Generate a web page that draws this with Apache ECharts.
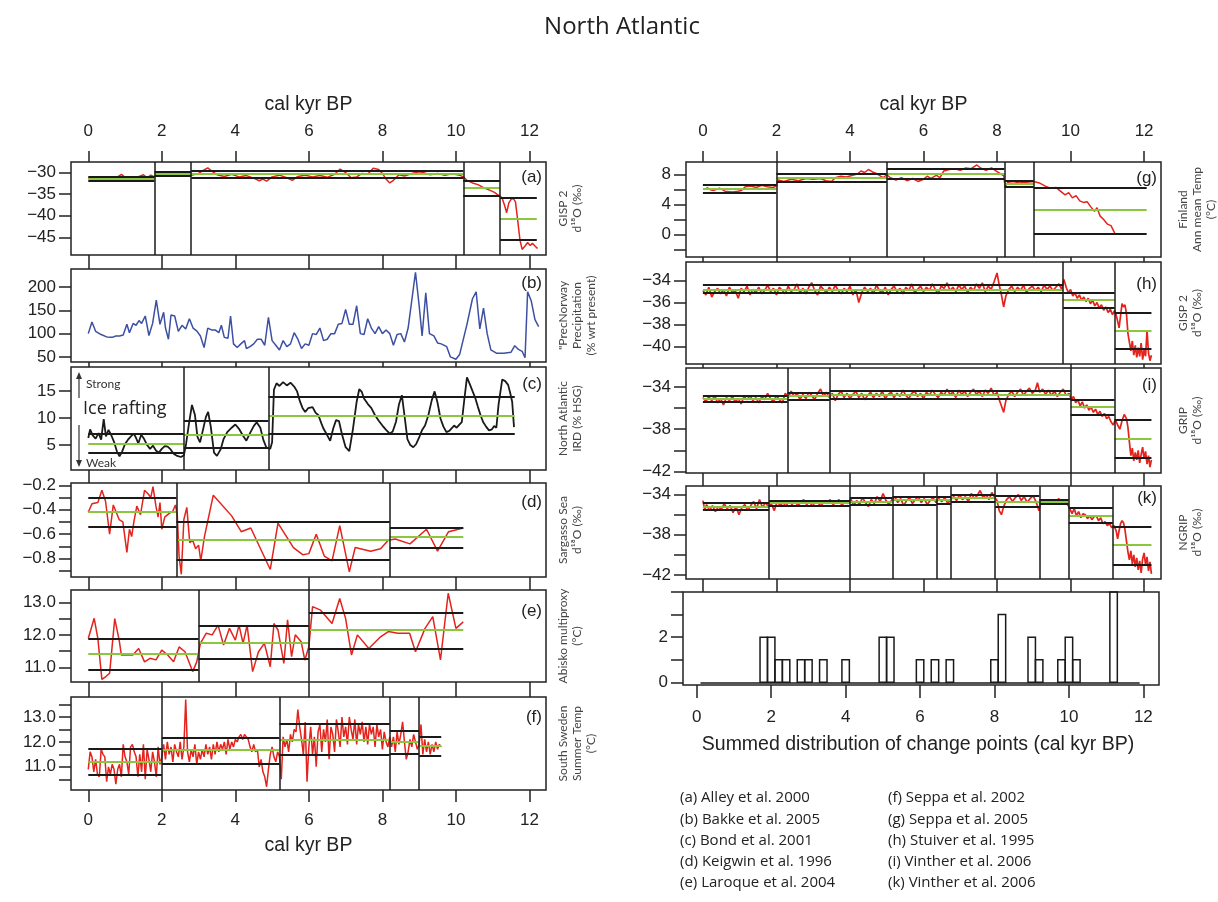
<!DOCTYPE html>
<html>
<head>
<meta charset="utf-8">
<script src="https://cdn.jsdelivr.net/npm/echarts@6/dist/echarts.min.js"></script>
<style>
html,body{margin:0;padding:0;background:#fff;}
#main{width:1218px;height:902px;}
</style>
</head>
<body>
<div id="main"></div>
<script>
// x ticks shared by all panels (cal kyr BP)
var xTicks = [0, 2, 4, 6, 8, 10, 12];

// (a) GISP 2 d18O
var aData = [[0,-31.3],[0.2,-31.5],[0.4,-31.2],[0.6,-31.6],[0.8,-31.0],[0.9,-30.4],[1.0,-31.1],[1.2,-31.4],[1.35,-31.0],[1.5,-30.5],[1.6,-31.2],[1.7,-30.6],[1.8,-31.0],[1.9,-30.4],[2.0,-30.3],[2.1,-29.9],[2.2,-30.2],[2.4,-30.0],[2.6,-30.3],[2.8,-30.6],[3.0,-30.2],[3.15,-29.4],[3.25,-28.9],[3.35,-29.6],[3.5,-30.5],[3.7,-30.9],[3.9,-30.4],[4.1,-31.0],[4.3,-30.7],[4.5,-31.3],[4.65,-31.9],[4.75,-31.5],[4.85,-32.0],[5.0,-31.0],[5.2,-30.6],[5.4,-31.2],[5.55,-31.8],[5.7,-30.9],[5.9,-30.6],[6.1,-31.0],[6.3,-30.7],[6.5,-31.1],[6.7,-30.4],[6.85,-29.2],[7.0,-30.0],[7.15,-31.2],[7.3,-31.0],[7.45,-30.2],[7.6,-30.4],[7.75,-29.0],[7.9,-29.3],[8.0,-30.2],[8.1,-31.5],[8.2,-32.4],[8.3,-31.8],[8.45,-30.5],[8.6,-30.8],[8.8,-30.2],[9.0,-29.8],[9.1,-30.0],[9.3,-30.5],[9.5,-30.2],[9.7,-30.6],[9.9,-30.3],[10.1,-30.6],[10.2,-31.0],[10.3,-31.8],[10.45,-32.4],[10.6,-32.8],[10.75,-33.5],[10.9,-34.0],[11.05,-34.6],[11.15,-35.2],[11.25,-35.8],[11.32,-37.5],[11.38,-39.3],[11.44,-37.0],[11.5,-36.2],[11.56,-36.0],[11.62,-36.8],[11.68,-41.0],[11.74,-45.5],[11.8,-47.8],[11.88,-47.0],[11.95,-46.2],[12.02,-46.9],[12.08,-46.4],[12.15,-47.0],[12.22,-47.6]];
// segments: [start, end, lower, mean, upper]
var aSegs = [[0,1.8,-31.9,-31.4,-31.0],[1.8,2.8,-30.8,-30.2,-29.8],[2.8,10.2,-31.1,-30.3,-29.6],[10.2,11.2,-35.3,-33.6,-32.0],[11.2,12.2,-45.5,-40.6,-35.8]];
var aBreaks = [1.8, 2.8, 10.2, 11.2];
var aTicks = [-30, -35, -40, -45];

// (b) PrecNorway precipitation
var bData = [[0.0,100],[0.1,125],[0.2,105],[0.35,98],[0.5,93],[0.65,92],[0.75,95],[0.85,95],[0.95,97],[1.05,120],[1.12,102],[1.22,122],[1.3,118],[1.38,128],[1.45,122],[1.55,138],[1.65,96],[1.75,122],[1.85,172],[1.95,120],[2.05,146],[2.1,112],[2.18,88],[2.25,140],[2.35,138],[2.45,105],[2.55,118],[2.65,110],[2.75,132],[2.85,112],[2.95,106],[3.05,95],[3.15,70],[3.25,112],[3.35,108],[3.45,108],[3.55,102],[3.62,118],[3.7,92],[3.8,90],[3.87,138],[3.95,78],[4.05,70],[4.15,78],[4.25,85],[4.3,68],[4.4,72],[4.5,78],[4.6,88],[4.7,88],[4.8,75],[4.9,135],[5.0,85],[5.1,75],[5.2,65],[5.3,85],[5.4,72],[5.5,78],[5.6,102],[5.7,88],[5.8,68],[5.9,78],[6.0,75],[6.1,100],[6.2,98],[6.3,112],[6.4,85],[6.5,88],[6.6,100],[6.7,100],[6.8,120],[6.9,122],[7.0,152],[7.1,120],[7.2,120],[7.3,160],[7.4,100],[7.5,98],[7.6,132],[7.7,112],[7.8,100],[7.9,115],[8.0,100],[8.1,108],[8.2,100],[8.3,75],[8.4,98],[8.5,100],[8.6,82],[8.7,112],[8.9,232],[9.0,160],[9.08,95],[9.18,188],[9.28,100],[9.4,95],[9.5,80],[9.6,78],[9.75,72],[9.85,50],[10.0,45],[10.1,55],[10.3,120],[10.45,175],[10.55,190],[10.65,110],[10.75,155],[10.85,100],[10.95,65],[11.1,58],[11.3,58],[11.5,60],[11.6,74],[11.7,66],[11.8,62],[11.88,48],[11.95,190],[12.05,170],[12.15,130],[12.25,115]];
var bTicks = [50, 100, 150, 200];

// (c) North Atlantic IRD
var cData = [[0.0,6.3],[0.05,7.9],[0.12,6.8],[0.2,6.2],[0.28,7.2],[0.35,6.0],[0.42,9.8],[0.48,6.6],[0.55,7.8],[0.62,6.9],[0.7,5.6],[0.78,3.8],[0.85,2.9],[0.92,3.8],[1.0,5.2],[1.08,6.0],[1.16,6.6],[1.24,7.1],[1.3,6.3],[1.36,5.3],[1.44,6.9],[1.52,6.1],[1.6,5.0],[1.68,4.3],[1.76,4.9],[1.84,4.0],[1.92,3.6],[2.0,4.3],[2.08,4.8],[2.16,4.7],[2.24,4.2],[2.32,3.4],[2.42,3.0],[2.52,2.8],[2.6,3.1],[2.66,5.2],[2.74,9.0],[2.82,12.4],[2.9,10.6],[2.97,6.5],[3.04,5.5],[3.12,7.8],[3.2,10.2],[3.26,11.1],[3.33,8.5],[3.42,3.6],[3.5,3.0],[3.6,4.2],[3.68,6.1],[3.78,7.4],[3.9,8.2],[4.0,8.8],[4.1,8.0],[4.2,6.8],[4.3,5.8],[4.4,7.2],[4.5,8.5],[4.58,9.2],[4.68,8.2],[4.76,6.0],[4.84,4.6],[4.95,4.3],[5.0,5.5],[5.05,15.2],[5.12,16.4],[5.2,15.9],[5.3,16.6],[5.4,16.0],[5.5,16.5],[5.6,15.8],[5.68,14.9],[5.76,13.0],[5.83,11.8],[5.9,11.1],[5.98,11.8],[6.1,12.0],[6.18,11.0],[6.26,10.5],[6.34,9.0],[6.4,8.0],[6.5,6.8],[6.58,5.8],[6.66,8.0],[6.74,9.6],[6.82,9.4],[6.9,7.0],[7.0,4.6],[7.1,3.9],[7.2,8.0],[7.3,13.0],[7.37,15.3],[7.44,14.8],[7.5,13.6],[7.6,12.6],[7.7,11.8],[7.8,10.5],[7.9,9.5],[8.0,8.6],[8.1,7.8],[8.2,7.1],[8.28,7.5],[8.37,9.3],[8.45,12.5],[8.53,14.2],[8.6,10.5],[8.68,6.1],[8.76,5.0],[8.84,4.6],[8.92,5.2],[9.0,6.4],[9.08,7.8],[9.16,8.6],[9.25,10.5],[9.34,13.2],[9.42,14.9],[9.5,12.8],[9.58,9.9],[9.66,8.4],[9.74,7.4],[9.82,7.6],[9.9,8.2],[9.95,8.6],[10.02,8.2],[10.1,8.8],[10.16,9.25],[10.23,13.5],[10.3,17.5],[10.38,16.2],[10.46,14.8],[10.53,13.6],[10.6,12.0],[10.67,10.5],[10.74,9.25],[10.82,8.4],[10.9,7.7],[10.98,7.9],[11.04,8.5],[11.1,8.2],[11.16,12.5],[11.21,14.8],[11.26,17.1],[11.34,16.8],[11.42,16.1],[11.48,14.5],[11.53,13.0],[11.58,8.3]];
var cSegs = [[0,2.6,3.6,5.2,7.05],[2.6,4.9,4.55,6.9,9.4],[4.9,11.6,7.0,10.4,13.9]];
var cBreaks = [2.6, 4.9];
var cTicks = [5, 10, 15];

// (d) Sargasso Sea d18O
var dData = [[0.0,-0.42],[0.1,-0.35],[0.26,-0.34],[0.37,-0.24],[0.47,-0.33],[0.58,-0.6],[0.68,-0.36],[0.76,-0.42],[0.84,-0.48],[0.94,-0.5],[1.05,-0.75],[1.12,-0.56],[1.18,-0.62],[1.24,-0.5],[1.32,-0.37],[1.42,-0.44],[1.53,-0.24],[1.63,-0.27],[1.7,-0.3],[1.76,-0.21],[1.84,-0.37],[1.9,-0.46],[1.95,-0.34],[2.0,-0.56],[2.08,-0.46],[2.2,-0.43],[2.3,-0.41],[2.37,-0.36],[2.42,-0.44],[2.47,-0.78],[2.53,-0.93],[2.6,-0.48],[2.68,-0.38],[2.76,-0.67],[2.84,-0.65],[2.92,-0.72],[3.0,-0.69],[3.06,-0.82],[3.16,-0.62],[3.4,-0.28],[3.9,-0.45],[4.16,-0.58],[4.42,-0.55],[4.95,-0.89],[5.16,-0.51],[5.58,-0.71],[5.84,-0.77],[6.0,-0.76],[6.2,-0.6],[6.42,-0.78],[6.63,-0.82],[6.84,-0.53],[7.1,-0.91],[7.26,-0.71],[7.68,-0.74],[7.95,-0.72],[8.16,-0.65],[8.35,-0.64],[8.75,-0.68],[9.2,-0.56],[9.5,-0.74],[9.8,-0.58],[10.2,-0.55]];
var dSegs = [[0,2.4,-0.54,-0.42,-0.30],[2.4,8.2,-0.81,-0.65,-0.50],[8.2,10.2,-0.71,-0.625,-0.55]];
var dBreaks = [2.4, 8.2];
var dTicks = [-0.2, -0.3, -0.4, -0.5, -0.6, -0.7, -0.8, -0.9];
var dLabels = [-0.2, -0.4, -0.6, -0.8];

// (e) Abisko multiproxy
var eData = [[0,11.89],[0.16,12.51],[0.26,11.89],[0.37,10.63],[0.47,10.71],[0.58,10.82],[0.72,12.5],[0.84,11.84],[0.9,11.38],[1.05,11.38],[1.21,11.38],[1.37,11.58],[1.53,11.17],[1.68,11.28],[1.84,11.23],[2.0,11.53],[2.16,11.38],[2.32,11.17],[2.47,11.63],[2.63,11.48],[2.84,10.87],[2.95,11.17],[3.05,11.74],[3.21,12.05],[3.37,12.0],[3.53,12.3],[3.68,11.69],[3.84,12.2],[4.0,11.84],[4.1,12.3],[4.21,11.74],[4.32,12.3],[4.47,10.87],[4.63,11.48],[4.79,11.74],[4.95,11.02],[5.05,12.35],[5.16,12.15],[5.32,11.12],[5.42,12.46],[5.53,11.33],[5.63,12.0],[5.79,11.79],[5.89,11.22],[6.0,11.64],[6.1,12.87],[6.32,12.76],[6.63,12.35],[6.84,13.12],[7.0,12.5],[7.16,11.38],[7.32,12.0],[7.63,11.58],[7.95,11.94],[8.16,12.1],[8.42,12.05],[8.74,12.05],[8.9,11.48],[9.16,12.2],[9.37,12.56],[9.58,11.23],[9.79,13.28],[10.0,12.2],[10.2,12.4]];
var eSegs = [[0,3.0,10.94,11.41,11.87],[3.0,6.0,11.28,11.77,12.27],[6.0,10.2,11.58,12.15,12.68]];
var eBreaks = [3.0, 6.0];
var eTicks = [11, 11.5, 12, 12.5, 13];
var eLabels = [11, 12, 13];

// (f) South Sweden summer temperature
var fData = [[0.0,10.9],[0.05,11.6],[0.1,11.4],[0.15,10.8],[0.2,11.3],[0.25,10.7],[0.3,10.6],[0.35,11.7],[0.4,11.5],[0.45,11.4],[0.5,10.4],[0.55,11.0],[0.6,10.7],[0.65,11.1],[0.7,10.9],[0.75,10.3],[0.8,10.9],[0.85,11.1],[0.9,10.6],[0.95,11.9],[1.0,11.4],[1.05,11.2],[1.1,10.7],[1.15,11.8],[1.2,11.9],[1.25,11.6],[1.3,11.4],[1.35,10.6],[1.4,11.5],[1.45,10.8],[1.5,11.9],[1.55,10.5],[1.6,11.7],[1.65,11.3],[1.7,10.8],[1.75,11.6],[1.8,11.2],[1.85,10.6],[1.9,11.8],[1.95,11.1],[2.0,11.4],[2.05,11.9],[2.1,11.3],[2.15,12.0],[2.2,11.5],[2.25,11.8],[2.3,11.2],[2.35,11.9],[2.4,11.6],[2.45,11.4],[2.5,12.0],[2.55,11.3],[2.6,11.8],[2.65,13.7],[2.7,11.6],[2.75,11.2],[2.8,11.7],[2.85,11.4],[2.9,11.9],[2.95,11.1],[3.0,11.6],[3.05,11.3],[3.1,11.7],[3.15,11.4],[3.2,11.9],[3.25,11.5],[3.3,11.8],[3.35,11.3],[3.4,11.9],[3.45,11.5],[3.5,12.0],[3.55,11.6],[3.6,11.9],[3.65,11.7],[3.7,12.0],[3.75,11.5],[3.8,12.1],[3.85,11.7],[3.9,12.0],[3.95,11.8],[4.0,12.1],[4.05,12.0],[4.1,12.2],[4.15,12.3],[4.2,12.1],[4.25,12.3],[4.3,12.2],[4.35,12.1],[4.4,11.8],[4.45,11.6],[4.5,11.9],[4.55,11.6],[4.6,11.7],[4.65,11.0],[4.7,11.3],[4.75,10.8],[4.8,10.6],[4.85,10.2],[4.9,10.9],[4.95,11.5],[5.0,11.8],[5.05,11.4],[5.1,11.2],[5.15,11.6],[5.2,11.4],[5.25,10.5],[5.3,12.2],[5.35,11.8],[5.4,12.1],[5.45,11.6],[5.5,12.3],[5.55,12.0],[5.6,12.5],[5.65,12.4],[5.7,13.3],[5.75,12.6],[5.8,12.1],[5.85,11.5],[5.9,12.8],[5.95,10.4],[6.0,11.8],[6.05,12.6],[6.1,11.5],[6.15,12.2],[6.2,11.0],[6.25,12.4],[6.3,12.7],[6.35,11.6],[6.4,12.5],[6.45,12.0],[6.5,12.9],[6.55,11.3],[6.6,12.6],[6.65,12.3],[6.7,11.6],[6.75,12.9],[6.8,12.4],[6.85,11.8],[6.9,13.0],[6.95,12.2],[7.0,12.6],[7.05,11.9],[7.1,13.0],[7.15,12.5],[7.2,12.1],[7.25,12.9],[7.3,11.9],[7.35,12.7],[7.4,12.3],[7.45,12.8],[7.5,12.0],[7.55,12.6],[7.6,11.9],[7.65,12.7],[7.7,12.3],[7.75,12.6],[7.8,11.8],[7.85,12.7],[7.9,12.2],[7.95,12.5],[8.0,11.7],[8.05,12.4],[8.1,12.0],[8.15,11.8],[8.2,12.2],[8.25,11.8],[8.3,12.2],[8.35,11.6],[8.4,12.4],[8.45,11.9],[8.5,12.3],[8.55,12.8],[8.6,12.0],[8.65,11.3],[8.7,11.6],[8.75,12.1],[8.8,11.8],[8.85,12.3],[8.9,12.0],[8.95,11.7],[9.0,11.9],[9.05,12.7],[9.1,11.5],[9.15,12.1],[9.2,11.6],[9.25,12.0],[9.3,11.5],[9.35,11.9],[9.4,11.6],[9.45,12.0],[9.5,11.7],[9.55,11.9],[9.6,11.8]];
var fSegs = [[0,2.0,10.7,11.2,11.74],[2.0,5.2,11.13,11.67,12.17],[5.2,8.2,11.49,12.1,12.71],[8.2,9.0,11.53,12.0,12.43],[9.0,9.6,11.45,11.83,12.2]];
var fBreaks = [2.0, 5.2, 8.2, 9.0];
var fTicks = [10.5, 11, 11.5, 12, 12.5, 13, 13.5];
var fLabels = [11, 12, 13];

// (g) Finland annual mean temperature
var gData = [[0.1,6.3],[0.2,6.0],[0.3,5.9],[0.45,6.2],[0.6,5.8],[0.8,5.7],[0.95,5.8],[1.05,5.9],[1.15,6.4],[1.3,6.5],[1.45,6.3],[1.6,6.6],[1.75,6.4],[1.9,6.3],[2.0,6.5],[2.05,7.3],[2.2,7.1],[2.4,7.4],[2.6,7.2],[2.8,7.5],[3.0,7.4],[3.2,7.5],[3.35,7.2],[3.5,7.1],[3.6,7.6],[3.75,7.8],[3.9,7.7],[4.05,7.9],[4.2,8.1],[4.3,8.5],[4.4,8.3],[4.5,8.7],[4.6,8.4],[4.7,8.2],[4.8,7.9],[4.9,7.6],[5.0,8.0],[5.1,7.6],[5.25,7.3],[5.4,7.6],[5.55,7.2],[5.7,7.5],[5.85,7.1],[6.0,7.4],[6.1,7.8],[6.2,7.5],[6.35,7.9],[6.45,7.6],[6.55,8.5],[6.7,8.7],[6.85,8.8],[7.0,8.6],[7.15,8.9],[7.3,8.8],[7.45,9.3],[7.55,8.9],[7.7,8.6],[7.85,8.9],[8.0,8.4],[8.1,8.1],[8.18,7.9],[8.22,6.4],[8.3,7.0],[8.45,7.1],[8.6,6.9],[8.8,7.0],[9.0,7.1],[9.15,6.9],[9.3,6.5],[9.45,6.2],[9.6,6.3],[9.75,5.7],[9.85,5.3],[9.95,5.6],[10.05,4.9],[10.15,5.2],[10.25,4.5],[10.35,4.3],[10.45,4.4],[10.55,3.7],[10.65,3.1],[10.72,3.6],[10.8,2.5],[10.9,2.0],[11.0,1.4],[11.1,1.2],[11.2,0.2]];
var gSegs = [[0,2.0,5.55,6.1,6.6],[2.0,5.0,7.0,7.6,8.1],[5.0,8.2,7.4,8.1,8.75],[8.2,9.0,6.4,6.8,7.2],[9.0,12.07,0.1,3.3,6.3]];
var gBreaks = [2.0, 5.0, 8.2, 9.0];
var gTicks = [-2, 0, 2, 4, 6, 8];
var gLabels = [0, 4, 8];

// (h) GISP 2 d18O (Stuiver)
var hData = [[0.0,-34.9],[0.08,-35.3],[0.16,-34.6],[0.24,-35.5],[0.32,-35.0],[0.4,-34.7],[0.48,-35.2],[0.56,-34.8],[0.64,-35.4],[0.72,-34.6],[0.8,-35.1],[0.88,-34.9],[0.96,-35.6],[1.04,-34.7],[1.12,-35.0],[1.2,-34.5],[1.28,-35.3],[1.36,-34.8],[1.44,-35.1],[1.52,-34.6],[1.6,-35.2],[1.68,-34.9],[1.76,-34.4],[1.84,-35.0],[1.92,-34.7],[2.0,-35.3],[2.08,-34.6],[2.16,-34.9],[2.24,-35.2],[2.32,-34.5],[2.4,-35.0],[2.48,-34.8],[2.56,-34.3],[2.64,-35.1],[2.72,-34.7],[2.8,-35.2],[2.88,-34.6],[2.96,-34.2],[3.04,-34.9],[3.12,-35.3],[3.2,-34.5],[3.28,-34.8],[3.36,-35.1],[3.44,-34.6],[3.52,-35.0],[3.6,-34.4],[3.68,-34.9],[3.76,-35.2],[3.84,-34.7],[3.92,-35.0],[4.0,-34.5],[4.08,-35.3],[4.16,-34.8],[4.24,-36.0],[4.32,-35.1],[4.4,-34.6],[4.48,-35.0],[4.56,-34.7],[4.64,-35.2],[4.72,-34.4],[4.8,-34.9],[4.88,-35.1],[4.96,-34.6],[5.04,-35.3],[5.12,-34.8],[5.2,-34.5],[5.28,-35.0],[5.36,-34.7],[5.44,-35.2],[5.52,-34.6],[5.6,-34.9],[5.68,-34.3],[5.76,-35.1],[5.84,-34.8],[5.92,-34.5],[6.0,-35.0],[6.08,-34.6],[6.16,-34.9],[6.24,-34.3],[6.32,-34.8],[6.4,-35.2],[6.48,-34.5],[6.56,-34.7],[6.64,-34.2],[6.72,-34.9],[6.8,-34.6],[6.88,-35.0],[6.96,-34.4],[7.04,-34.8],[7.12,-34.5],[7.2,-35.1],[7.28,-34.6],[7.36,-34.9],[7.44,-34.3],[7.52,-34.7],[7.6,-34.2],[7.68,-35.0],[7.76,-34.5],[7.84,-34.8],[7.92,-34.1],[8.0,-33.3],[8.06,-34.4],[8.12,-35.3],[8.18,-36.4],[8.24,-35.4],[8.32,-34.8],[8.4,-34.5],[8.48,-35.0],[8.56,-34.6],[8.64,-34.9],[8.72,-34.4],[8.8,-35.1],[8.88,-34.7],[8.96,-34.5],[9.04,-34.9],[9.12,-34.6],[9.2,-35.0],[9.28,-34.4],[9.36,-34.8],[9.44,-34.5],[9.52,-34.9],[9.6,-34.6],[9.68,-34.3],[9.76,-34.8],[9.82,-33.9],[9.88,-34.6],[9.94,-35.1],[10.0,-34.8],[10.06,-35.4],[10.12,-35.1],[10.18,-35.6],[10.24,-35.3],[10.3,-35.8],[10.36,-35.5],[10.42,-35.9],[10.48,-35.6],[10.54,-36.1],[10.6,-35.8],[10.66,-36.3],[10.72,-36.0],[10.78,-36.5],[10.84,-36.2],[10.9,-36.7],[10.96,-36.4],[11.02,-36.9],[11.08,-36.6],[11.14,-37.1],[11.2,-36.7],[11.26,-37.4],[11.32,-38.3],[11.36,-37.2],[11.4,-36.1],[11.44,-36.4],[11.48,-36.2],[11.52,-37.0],[11.56,-38.8],[11.6,-39.6],[11.64,-40.4],[11.68,-39.5],[11.72,-40.8],[11.76,-39.9],[11.8,-41.0],[11.84,-40.1],[11.88,-40.9],[11.92,-39.7],[11.96,-41.2],[12.0,-40.3],[12.04,-40.9],[12.08,-38.5],[12.12,-40.6],[12.16,-41.3],[12.2,-40.8]];
var hSegs = [[0,9.8,-35.1,-34.8,-34.4],[9.8,11.2,-36.45,-35.75,-35.1],[11.2,12.2,-40.2,-38.6,-36.9]];
var hBreaks = [9.8, 11.2];
var hTicks = [-34, -36, -38, -40];

// (i) GRIP d18O
var iData = [[0.0,-35.0],[0.08,-35.4],[0.16,-34.9],[0.24,-35.3],[0.32,-34.8],[0.4,-35.5],[0.48,-35.1],[0.56,-35.7],[0.64,-35.0],[0.72,-35.3],[0.8,-34.9],[0.88,-35.4],[0.96,-35.1],[1.04,-35.6],[1.12,-34.9],[1.2,-35.2],[1.28,-34.8],[1.36,-35.3],[1.44,-35.0],[1.52,-35.5],[1.6,-34.9],[1.68,-35.2],[1.76,-34.6],[1.84,-35.1],[1.92,-35.4],[2.0,-34.8],[2.08,-35.2],[2.16,-35.5],[2.24,-34.6],[2.32,-35.0],[2.4,-34.4],[2.48,-34.9],[2.56,-34.6],[2.64,-35.2],[2.72,-34.7],[2.8,-35.1],[2.88,-34.5],[2.96,-34.8],[3.04,-35.2],[3.12,-34.6],[3.2,-34.2],[3.28,-34.9],[3.36,-34.5],[3.44,-35.0],[3.52,-34.6],[3.6,-35.3],[3.68,-34.7],[3.76,-34.4],[3.84,-35.0],[3.92,-34.6],[4.0,-35.1],[4.08,-34.7],[4.16,-34.4],[4.24,-35.0],[4.32,-34.6],[4.4,-35.2],[4.48,-34.8],[4.56,-34.5],[4.64,-35.0],[4.72,-34.6],[4.8,-34.9],[4.88,-34.4],[4.96,-35.1],[5.04,-34.7],[5.12,-34.5],[5.2,-35.0],[5.28,-34.6],[5.36,-34.9],[5.44,-34.3],[5.52,-34.8],[5.6,-35.1],[5.68,-34.6],[5.76,-34.4],[5.84,-34.9],[5.92,-34.6],[6.0,-35.1],[6.08,-34.5],[6.16,-34.8],[6.24,-34.3],[6.32,-34.7],[6.4,-35.0],[6.48,-34.5],[6.56,-34.8],[6.64,-34.2],[6.72,-34.7],[6.8,-34.5],[6.88,-35.0],[6.96,-34.3],[7.04,-34.7],[7.12,-34.4],[7.2,-34.9],[7.28,-34.5],[7.36,-34.2],[7.44,-34.7],[7.52,-34.4],[7.6,-34.9],[7.68,-34.3],[7.76,-34.6],[7.84,-34.1],[7.92,-34.8],[8.0,-34.5],[8.06,-35.2],[8.12,-35.8],[8.18,-36.4],[8.24,-35.3],[8.32,-34.7],[8.4,-34.4],[8.48,-34.9],[8.56,-34.5],[8.64,-34.2],[8.72,-34.8],[8.8,-34.4],[8.88,-34.1],[8.96,-34.6],[9.04,-34.3],[9.1,-33.6],[9.16,-34.5],[9.24,-34.2],[9.32,-34.7],[9.4,-34.3],[9.48,-34.8],[9.56,-34.4],[9.64,-34.9],[9.72,-34.5],[9.8,-34.2],[9.88,-34.8],[9.96,-34.6],[10.02,-35.2],[10.08,-34.9],[10.14,-35.5],[10.2,-35.2],[10.26,-35.8],[10.32,-35.4],[10.38,-36.0],[10.44,-35.7],[10.5,-36.2],[10.56,-35.9],[10.62,-36.4],[10.68,-36.1],[10.74,-36.6],[10.8,-36.3],[10.86,-36.8],[10.92,-36.5],[10.98,-37.0],[11.04,-36.8],[11.1,-37.3],[11.16,-37.6],[11.22,-37.1],[11.28,-37.6],[11.34,-38.0],[11.4,-37.2],[11.46,-36.6],[11.52,-37.0],[11.56,-37.8],[11.6,-39.2],[11.64,-40.5],[11.68,-39.8],[11.72,-41.0],[11.76,-40.2],[11.8,-40.9],[11.84,-40.0],[11.88,-41.2],[11.92,-40.4],[11.96,-39.7],[12.0,-40.8],[12.04,-40.1],[12.08,-41.3],[12.12,-40.5],[12.16,-41.6],[12.2,-40.9]];
var iSegs = [[0,2.3,-35.4,-35.1,-34.85],[2.3,3.45,-35.2,-34.8,-34.5],[3.45,10.0,-35.1,-34.7,-34.4],[10.0,11.2,-36.6,-35.9,-35.2],[11.2,12.2,-40.7,-38.9,-37.1]];
var iBreaks = [2.3, 3.45, 10.0, 11.2];
var iTicks = [-34, -36, -38, -40, -42];
var iLabels = [-34, -38, -42];

// (k) NGRIP d18O
var kData = [[0.0,-34.6],[0.05,-35.5],[0.1,-35.0],[0.18,-35.6],[0.26,-35.1],[0.34,-35.7],[0.42,-35.2],[0.5,-35.5],[0.58,-34.9],[0.66,-35.4],[0.74,-35.1],[0.82,-35.8],[0.9,-35.2],[0.98,-36.0],[1.06,-35.3],[1.14,-35.0],[1.22,-35.6],[1.3,-35.1],[1.38,-34.7],[1.46,-35.4],[1.54,-34.5],[1.62,-35.3],[1.7,-34.8],[1.78,-35.2],[1.86,-34.9],[1.94,-35.6],[2.02,-34.7],[2.1,-35.1],[2.18,-34.8],[2.26,-35.2],[2.34,-34.6],[2.42,-35.0],[2.5,-34.7],[2.58,-35.1],[2.66,-34.8],[2.74,-34.5],[2.82,-35.0],[2.9,-34.7],[2.98,-35.2],[3.06,-34.6],[3.14,-34.9],[3.22,-35.1],[3.3,-34.7],[3.38,-34.9],[3.46,-34.5],[3.54,-35.0],[3.62,-34.8],[3.7,-34.5],[3.78,-35.1],[3.86,-34.7],[3.94,-34.9],[4.02,-34.4],[4.1,-35.1],[4.18,-34.6],[4.26,-35.0],[4.34,-34.3],[4.42,-34.8],[4.5,-35.2],[4.58,-34.5],[4.66,-34.9],[4.74,-34.2],[4.82,-34.7],[4.9,-33.9],[4.98,-34.6],[5.06,-35.0],[5.14,-34.5],[5.22,-34.2],[5.3,-34.8],[5.38,-34.4],[5.46,-35.1],[5.54,-34.6],[5.62,-34.3],[5.7,-34.9],[5.78,-34.5],[5.86,-34.2],[5.94,-34.8],[6.02,-34.4],[6.1,-35.0],[6.18,-34.6],[6.26,-34.3],[6.34,-34.8],[6.42,-34.4],[6.5,-34.7],[6.58,-34.3],[6.66,-34.9],[6.74,-34.5],[6.82,-34.2],[6.9,-34.6],[6.98,-34.0],[7.06,-34.5],[7.14,-34.2],[7.22,-34.7],[7.3,-33.9],[7.38,-34.4],[7.46,-34.1],[7.54,-33.6],[7.62,-34.3],[7.7,-34.0],[7.78,-34.5],[7.86,-33.8],[7.94,-34.3],[8.0,-34.6],[8.06,-35.6],[8.12,-36.0],[8.18,-35.2],[8.26,-34.5],[8.34,-34.2],[8.42,-34.7],[8.5,-34.3],[8.58,-34.0],[8.66,-34.6],[8.74,-34.2],[8.82,-34.8],[8.9,-34.4],[8.98,-34.1],[9.06,-34.7],[9.14,-35.6],[9.2,-34.6],[9.28,-34.9],[9.36,-34.5],[9.44,-35.0],[9.52,-34.6],[9.6,-34.8],[9.68,-34.4],[9.76,-34.9],[9.84,-34.6],[9.92,-35.0],[9.98,-35.4],[10.04,-35.9],[10.1,-35.4],[10.16,-36.1],[10.22,-35.7],[10.28,-36.3],[10.34,-35.9],[10.4,-36.0],[10.46,-36.4],[10.52,-36.1],[10.58,-36.5],[10.64,-36.2],[10.7,-36.1],[10.76,-36.6],[10.82,-36.3],[10.88,-36.9],[10.94,-36.7],[11.0,-37.1],[11.06,-36.9],[11.12,-37.3],[11.18,-37.1],[11.24,-37.6],[11.28,-38.4],[11.32,-37.6],[11.36,-36.9],[11.4,-36.6],[11.44,-36.8],[11.48,-37.5],[11.52,-38.6],[11.56,-39.7],[11.6,-40.5],[11.64,-39.6],[11.68,-40.9],[11.72,-40.0],[11.76,-41.2],[11.8,-40.3],[11.84,-41.5],[11.88,-40.6],[11.92,-41.8],[11.96,-40.4],[12.0,-39.8],[12.04,-41.0],[12.08,-40.2],[12.12,-41.6],[12.16,-40.7],[12.2,-41.9]];
var kSegs = [[0,1.8,-35.5,-35.2,-34.85],[1.8,4.0,-35.1,-34.85,-34.6],[4.0,5.15,-35.0,-34.67,-34.33],[5.15,6.35,-35.0,-34.5,-34.17],[6.35,6.75,-34.9,-34.5,-34.17],[6.75,7.95,-34.67,-34.33,-34.0],[7.95,9.15,-35.17,-34.67,-34.1],[9.15,9.95,-34.93,-34.73,-34.5],[9.95,11.15,-36.83,-36.07,-35.33],[11.15,12.2,-41.0,-39.0,-37.23]];
var kBreaks = [1.8, 4.0, 5.15, 6.35, 6.75, 7.95, 9.15, 9.95, 11.15];
var kTicks = [-34, -36, -38, -40, -42];
var kLabels = [-34, -38, -42];

// summed distribution of change points (bin centres and counts, bin width 0.2 kyr)
var histCentres = [1.8, 2.0, 2.2, 2.4, 2.8, 3.0, 3.4, 4.0, 5.0, 5.2, 6.0, 6.4, 6.8, 8.0, 8.2, 9.0, 9.2, 9.8, 10.0, 10.2, 11.2];
var histCounts  = [2, 2, 1, 1, 1, 1, 1, 1, 2, 2, 1, 1, 1, 1, 3, 2, 1, 1, 2, 1, 4];
var histBinWidth = 0.2;
var histRange = [0.1, 11.9];
var histTicks = [0, 1, 2, 3, 4];
var histLabels = [0, 2];

var references1 = ['(a) Alley et al. 2000', '(b) Bakke et al. 2005', '(c) Bond et al. 2001', '(d) Keigwin et al. 1996', '(e) Laroque et al. 2004'];
var references2 = ['(f) Seppa et al. 2002', '(g) Seppa et al. 2005', '(h) Stuiver et al. 1995', '(i) Vinther et al. 2006', '(k) Vinther et al. 2006'];

var RED = '#e3231c', GREEN = '#8cc63f', BLACK = '#1a1a1a', BLUE = '#3d4fa3', AXIS = '#222';
var NUM_FONT = '"Liberation Sans", Arial, sans-serif';
var TXT_FONT = 'Lato, "Open Sans", sans-serif';
var SANS_FONT = '"Open Sans", Lato, sans-serif';

var L = {left: 71, width: 475, xMin: -0.47, xMax: 12.45, labX: 563};
var R = {left: 686, width: 475, xMin: -0.46, xMax: 12.46, labX: 1183};

var panels = [
  {tag: '(a)', col: L, top: 162, height: 93, tick: 14, topAxis: true, data: aData, color: RED, segs: aSegs, breaks: aBreaks, yMin: -49.1, yMax: -27.55, yTicks: aTicks, yLabels: aTicks, dec: 0, tagY: 177, title: ['GISP 2', 'd\u00B9\u2078O (\u2030)']},
  {tag: '(b)', col: L, top: 269, height: 93, tick: 5, data: bData, color: BLUE, yMin: 39, yMax: 239, yTicks: bTicks, yLabels: bTicks, dec: 0, tagY: 283, title: ['"PrecNorway', 'Precipitation', '(% wrt present)']},
  {tag: '(c)', col: L, top: 367, height: 103, tick: 13, data: cData, color: BLACK, lw: 1.8, segs: cSegs, breaks: cBreaks, yMin: 0.4, yMax: 19.4, yTicks: cTicks, yLabels: cTicks, dec: 0, tagY: 384, title: ['North Atlantic', 'IRD (% HSG)']},
  {tag: '(d)', col: L, top: 483, height: 94, tick: 13, data: dData, color: RED, segs: dSegs, breaks: dBreaks, yMin: -0.952, yMax: -0.18, yTicks: dTicks, yLabels: dLabels, dec: 1, tagY: 502, title: ['Sargasso Sea', 'd\u00B9\u2078O (\u2030)']},
  {tag: '(e)', col: L, top: 590, height: 92, tick: 15, data: eData, color: RED, segs: eSegs, breaks: eBreaks, yMin: 10.55, yMax: 13.38, yTicks: eTicks, yLabels: eLabels, dec: 1, tagY: 611, title: ['Abisko multiproxy', '(\u00B0C)']},
  {tag: '(f)', col: L, top: 697, height: 93, tick: 12, bottomLabels: true, data: fData, color: RED, segs: fSegs, breaks: fBreaks, yMin: 10.07, yMax: 13.8, yTicks: fTicks, yLabels: fLabels, dec: 1, tagY: 717, title: ['South Sweden', 'Summer Temp', '(\u00B0C)']},
  {tag: '(g)', col: R, top: 162, height: 95, tick: 5, topAxis: true, data: gData, color: RED, segs: gSegs, breaks: gBreaks, yMin: -3, yMax: 9.7, yTicks: gTicks, yLabels: gLabels, dec: 0, tagY: 178, title: ['Finland', 'Ann mean Temp', '(\u00B0C)']},
  {tag: '(h)', col: R, top: 262, height: 102, tick: 4, data: hData, color: RED, lw: 1.7, segs: hSegs, breaks: hBreaks, yMin: -41.6, yMax: -32.3, yTicks: hTicks, yLabels: hTicks, dec: 0, tagY: 284, title: ['GISP 2', 'd\u00B9\u2078O (\u2030)']},
  {tag: '(i)', col: R, top: 368, height: 105, tick: 13, data: iData, color: RED, lw: 1.7, segs: iSegs, breaks: iBreaks, yMin: -42.15, yMax: -32.2, yTicks: iTicks, yLabels: iLabels, dec: 0, tagY: 385, title: ['GRIP', 'd\u00B9\u2078O (\u2030)']},
  {tag: '(k)', col: R, top: 486, height: 93, tick: 13, data: kData, color: RED, lw: 1.7, segs: kSegs, breaks: kBreaks, yMin: -42.4, yMax: -33.15, yTicks: kTicks, yLabels: kLabels, dec: 0, tagY: 498, title: ['NGRIP', 'd\u00B9\u2078O (\u2030)']}
];

function numFmt(dec) {
  return function (v) { return (dec ? v.toFixed(dec) : String(Math.round(v))).replace('-', '\u2212'); };
}

var option = {animation: false, backgroundColor: '#fff', grid: [], xAxis: [], yAxis: [], series: [], graphic: []};

function addAxes(i, g, yCfg) {
  option.grid.push({left: g.left, top: g.top, width: g.width, height: g.height, show: true, borderColor: AXIS, borderWidth: 1.5, backgroundColor: 'transparent'});
  option.xAxis.push({
    gridIndex: i, type: 'value', min: g.xMin, max: g.xMax, position: 'bottom',
    axisLine: {show: false, onZero: false}, splitLine: {show: false},
    axisTick: {show: true, length: g.tick, customValues: xTicks, lineStyle: {color: AXIS, width: 1.5}},
    axisLabel: {show: !!g.bottomLabels, customValues: xTicks, margin: g.labelMargin, fontFamily: NUM_FONT, fontSize: 17, color: AXIS}
  });
  option.yAxis.push({
    gridIndex: i, type: 'value', min: yCfg.yMin, max: yCfg.yMax,
    axisLine: {show: false, onZero: false}, splitLine: {show: false},
    axisTick: {show: true, length: 12, customValues: yCfg.yTicks, lineStyle: {color: AXIS, width: 1.5}},
    axisLabel: {customValues: yCfg.yLabels, formatter: numFmt(yCfg.dec), margin: 15, fontFamily: NUM_FONT, fontSize: 17, color: AXIS}
  });
}

var topAxes = [];
panels.forEach(function (p, i) {
  addAxes(i, {left: p.col.left, width: p.col.width, xMin: p.col.xMin, xMax: p.col.xMax, top: p.top, height: p.height, tick: p.tick, bottomLabels: p.bottomLabels, labelMargin: 22}, p);
  if (p.topAxis) topAxes.push(i);

  var s = {type: 'line', xAxisIndex: i, yAxisIndex: i, data: p.data, symbol: 'none', silent: true, z: 2,
    lineStyle: {color: p.color, width: p.lw || 1.5}};
  if (p.breaks) {
    s.markLine = {silent: true, symbol: ['none', 'none'], label: {show: false}, animation: false,
      lineStyle: {color: BLACK, type: 'solid', width: 1.5},
      data: p.breaks.map(function (b) { return {xAxis: b}; })};
  }
  option.series.push(s);

  if (p.segs) {
    var blk = [], grn = [];
    p.segs.forEach(function (sg) {
      blk.push({coords: [[sg[0], sg[2]], [sg[1], sg[2]]]});
      blk.push({coords: [[sg[0], sg[4]], [sg[1], sg[4]]]});
      grn.push({coords: [[sg[0], sg[3]], [sg[1], sg[3]]]});
    });
    option.series.push({type: 'lines', coordinateSystem: 'cartesian2d', xAxisIndex: i, yAxisIndex: i, silent: true, z: 3,
      data: blk, lineStyle: {color: BLACK, width: 2, opacity: 1}});
    option.series.push({type: 'lines', coordinateSystem: 'cartesian2d', xAxisIndex: i, yAxisIndex: i, silent: true, z: 4,
      data: grn, lineStyle: {color: GREEN, width: 2, opacity: 1}});
  }

  // panel tag
  option.graphic.push({type: 'text', x: p.col.left + p.col.width - 4, y: p.tagY, silent: true,
    style: {text: p.tag, align: 'right', verticalAlign: 'middle', font: '17px ' + NUM_FONT, fill: AXIS}});
  // right-hand axis title (rotated)
  var cy = p.top + p.height / 2;
  p.title.forEach(function (t, j) {
    option.graphic.push({type: 'text', x: p.col.labX + j * 14, y: cy, rotation: Math.PI / 2, silent: true,
      style: {text: t, align: 'center', verticalAlign: 'middle', font: '12px ' + TXT_FONT, fill: '#444'}});
  });
});

// histogram panel
var hi = panels.length;
addAxes(hi, {left: 683, width: 476, xMin: -0.37, xMax: 12.42, top: 592, height: 93, tick: 13, bottomLabels: true, labelMargin: 24},
  {yMin: -0.12, yMax: 4.0, yTicks: histTicks, yLabels: histLabels, dec: 0});
option.series.push({
  type: 'custom', xAxisIndex: hi, yAxisIndex: hi, silent: true, z: 3,
  data: histCentres.map(function (c, j) { return [c, histCounts[j]]; }),
  renderItem: function (params, api) {
    var c = api.value(0), n = api.value(1);
    var p0 = api.coord([c - histBinWidth / 2, 0]);
    var p1 = api.coord([c + histBinWidth / 2, n]);
    return {type: 'rect', shape: {x: p0[0], y: p1[1], width: p1[0] - p0[0], height: p0[1] - p1[1]},
      style: {fill: 'none', stroke: BLACK, lineWidth: 1.5}};
  }
});
option.series.push({type: 'lines', coordinateSystem: 'cartesian2d', xAxisIndex: hi, yAxisIndex: hi, silent: true, z: 2,
  data: [{coords: [[histRange[0], 0], [histRange[1], 0]]}], lineStyle: {color: BLACK, width: 1.5, opacity: 1}});

// top labelled axes for (a) and (g)
topAxes.forEach(function (i) {
  var p = panels[i];
  option.xAxis.push({
    gridIndex: i, type: 'value', min: p.col.xMin, max: p.col.xMax, position: 'top',
    axisLine: {show: false, onZero: false}, splitLine: {show: false},
    axisTick: {show: true, length: 11, customValues: xTicks, lineStyle: {color: AXIS, width: 1.5}},
    axisLabel: {customValues: xTicks, margin: 22, fontFamily: NUM_FONT, fontSize: 17, color: AXIS}
  });
});

// texts
function txt(x, y, s, font, extra) {
  var o = {type: 'text', x: x, y: y, silent: true, style: {text: s, align: 'center', verticalAlign: 'middle', font: font, fill: AXIS}};
  if (extra) for (var k in extra) o.style[k] = extra[k];
  option.graphic.push(o);
}
txt(622, 27, 'North Atlantic', '24px ' + SANS_FONT);
txt(L.left + L.width / 2, 105, 'cal kyr BP', '19.5px ' + NUM_FONT);
txt(R.left + R.width / 2, 105, 'cal kyr BP', '19.5px ' + NUM_FONT);
txt(L.left + L.width / 2, 846, 'cal kyr BP', '19.5px ' + NUM_FONT);
txt(918, 745, 'Summed distribution of change points (cal kyr BP)', '19.5px ' + NUM_FONT);

// ice rafting annotation in panel (c)
txt(86, 384, 'Strong', '12px ' + TXT_FONT, {align: 'left', fill: '#333'});
txt(83, 409, 'Ice rafting', '18px ' + SANS_FONT, {align: 'left'});
txt(86, 463, 'Weak', '12px ' + TXT_FONT, {align: 'left', fill: '#333'});
option.graphic.push({type: 'line', silent: true, shape: {x1: 79, y1: 376, x2: 79, y2: 398}, style: {stroke: '#333', lineWidth: 1.2}});
option.graphic.push({type: 'polygon', silent: true, shape: {points: [[76, 379], [82, 379], [79, 372]]}, style: {fill: '#333'}});
option.graphic.push({type: 'line', silent: true, shape: {x1: 79, y1: 425, x2: 79, y2: 463}, style: {stroke: '#333', lineWidth: 1.2}});
option.graphic.push({type: 'polygon', silent: true, shape: {points: [[76, 460], [82, 460], [79, 467]]}, style: {fill: '#333'}});

// references
references1.forEach(function (r, j) { txt(680, 798 + j * 21.3, r, '15px ' + SANS_FONT, {align: 'left'}); });
references2.forEach(function (r, j) { txt(888, 798 + j * 21.3, r, '15px ' + SANS_FONT, {align: 'left'}); });

var chart = echarts.init(document.getElementById('main'), null, {renderer: 'canvas'});
chart.setOption(option);
</script>
</body>
</html>
